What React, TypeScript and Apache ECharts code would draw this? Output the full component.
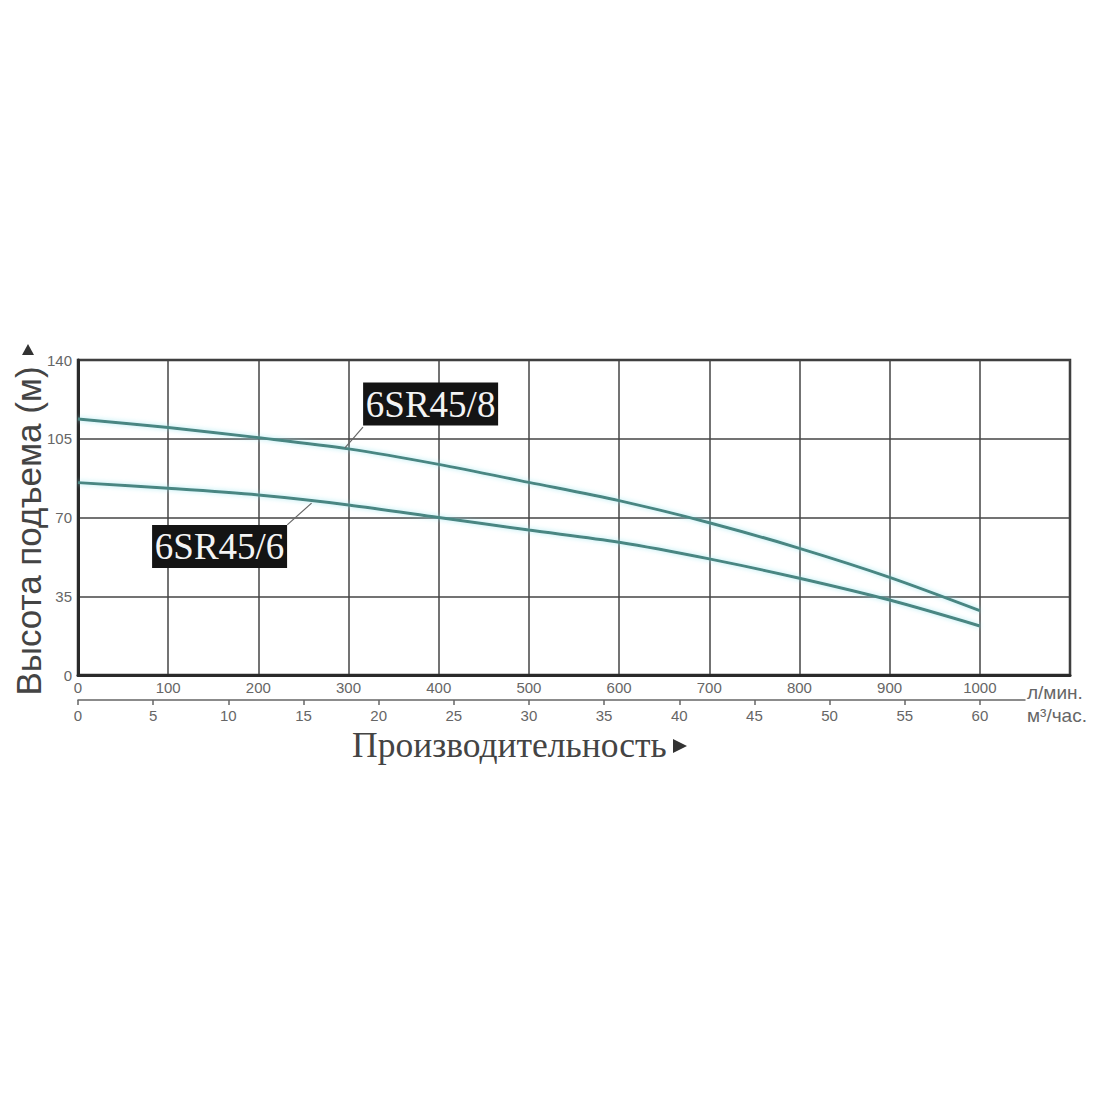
import React, { useEffect, useRef } from "react";
import * as echarts from "echarts";

const flowLmin = [0, 100, 200, 300, 400, 500, 600, 700, 800, 900, 1000];
const head8 = [113.8, 110, 105.5, 100.5, 93.6, 85.6, 77.5, 67.7, 56.3, 43.4, 28.6];
const head6 = [85.5, 83, 80, 75.6, 70, 64.4, 59, 51.6, 43, 33.3, 21.8];
const seriesNames = ["6SR45/8", "6SR45/6"];
const yTitle = "Высота подъема (м)";
const xTitle = "Производительность";
const unitLmin = "л/мин.";
const unitM3h = "м³/час.";
// label anchor (data units) and leader line endpoints
const label8 = [391, 120.4];
const leader8 = [[296, 100.9], [316, 110.2]];
const label6 = [157, 57.1];
const leader6 = [[232, 66.7], [259, 76.4]];

const LINE = "#4a8682";
const GLOW = "rgba(140,225,235,0.7)";

function pairs(xs: number[], ys: number[]) {
  return xs.map((x, i) => [x, ys[i]]);
}

function labelPoint(name: string, pos: number[], w: number) {
  return {
    symbol: "rect",
    symbolSize: [w, 43],
    silent: true,
    itemStyle: { color: "#141414" },
    label: {
      show: true,
      position: "inside",
      formatter: name,
      color: "#f4f4f4",
      fontFamily: "Liberation Serif",
      fontSize: 37,
    },
    data: [{ coord: pos }],
  };
}

function leader(l: number[][]) {
  return {
    symbol: ["none", "none"],
    silent: true,
    label: { show: false },
    lineStyle: { color: "#666", width: 1.2, type: "solid" },
    data: [[{ coord: l[0] }, { coord: l[1] }]],
  };
}

export default function App() {
  const ref = useRef<HTMLDivElement>(null);
  useEffect(() => {
    if (!ref.current) return;
    const chart = echarts.init(ref.current, null, { renderer: "svg" });
    chart.setOption({
      animation: false,
      backgroundColor: "#ffffff",
      grid: [
        { left: 78, top: 360, right: 30, bottom: 425, show: true, borderColor: "#333", borderWidth: 2.5 },
        { left: 78, top: 699, width: 947, height: 1, show: false },
      ],
      xAxis: [
        {
          type: "value",
          gridIndex: 0,
          min: 0,
          max: 1100,
          interval: 100,
          axisLine: { show: true, lineStyle: { color: "#2a2a2a", width: 3 } },
          axisTick: { show: false },
          splitLine: { show: true, lineStyle: { color: "#444", width: 1.5 } },
          axisLabel: {
            color: "#666",
            fontSize: 15,
            fontFamily: "Liberation Sans",
            margin: 5,
            formatter: (v: number) => (v === 1100 ? "" : String(v)),
          },
        },
        {
          type: "value",
          gridIndex: 1,
          min: 0,
          max: 63,
          interval: 5,
          axisLine: { show: true, onZero: false, lineStyle: { color: "#666", width: 1.5 } },
          axisTick: { show: true, length: 5, lineStyle: { color: "#666", width: 1.5 } },
          splitLine: { show: false },
          axisLabel: {
            color: "#666",
            fontSize: 15,
            fontFamily: "Liberation Sans",
            margin: 8,
            showMaxLabel: false,
            formatter: (v: number) => (v > 60 ? "" : String(v)),
          },
        },
      ],
      yAxis: [
        {
          type: "value",
          gridIndex: 0,
          min: 0,
          max: 140,
          interval: 35,
          axisLine: { show: true, lineStyle: { color: "#2a2a2a", width: 3 } },
          axisTick: { show: false },
          splitLine: { show: true, lineStyle: { color: "#444", width: 1.5 } },
          axisLabel: { color: "#666", fontSize: 15, fontFamily: "Liberation Sans", margin: 6 },
        },
        { type: "value", gridIndex: 1, show: false, min: 0, max: 1 },
      ],
      series: [
        {
          name: seriesNames[0],
          type: "line",
          xAxisIndex: 0,
          yAxisIndex: 0,
          smooth: 0.3,
          showSymbol: false,
          data: pairs(flowLmin, head8),
          lineStyle: { color: LINE, width: 3, shadowColor: GLOW, shadowBlur: 5 },
          markPoint: labelPoint(seriesNames[0], label8, 135),
          markLine: leader(leader8),
          z: 3,
        },
        {
          name: seriesNames[1],
          type: "line",
          xAxisIndex: 0,
          yAxisIndex: 0,
          smooth: 0.3,
          showSymbol: false,
          data: pairs(flowLmin, head6),
          lineStyle: { color: LINE, width: 3, shadowColor: GLOW, shadowBlur: 5 },
          markPoint: labelPoint(seriesNames[1], label6, 135),
          markLine: leader(leader6),
          z: 3,
        },
      ],
      graphic: [
        {
          type: "text",
          x: 28,
          y: 531,
          rotation: Math.PI / 2,
          style: {
            text: yTitle,
            fill: "#444",
            fontSize: 35,
            fontFamily: "Liberation Sans",
            align: "center",
            verticalAlign: "middle",
          },
        },
        {
          type: "polygon",
          shape: { points: [[28, 344], [22, 355], [34, 355]] },
          style: { fill: "#333" },
        },
        {
          type: "text",
          x: 352,
          y: 745,
          style: {
            text: xTitle,
            fill: "#444",
            fontSize: 35.5,
            fontFamily: "Liberation Serif",
            align: "left",
            verticalAlign: "middle",
          },
        },
        {
          type: "polygon",
          shape: { points: [[687, 746], [673, 739], [673, 753]] },
          style: { fill: "#333" },
        },
        {
          type: "text",
          x: 1027,
          y: 692,
          style: { text: unitLmin, fill: "#666", fontSize: 19, fontFamily: "Liberation Sans", align: "left", verticalAlign: "middle" },
        },
        {
          type: "text",
          x: 1027,
          y: 715,
          style: { text: unitM3h, fill: "#666", fontSize: 19, fontFamily: "Liberation Sans", align: "left", verticalAlign: "middle" },
        },
      ],
    });
    return () => chart.dispose();
  }, []);
  return (
    <div
      ref={ref}
      style={{ position: "fixed", left: 0, top: 0, width: 1100, height: 1100, background: "#fff" }}
    />
  );
}
